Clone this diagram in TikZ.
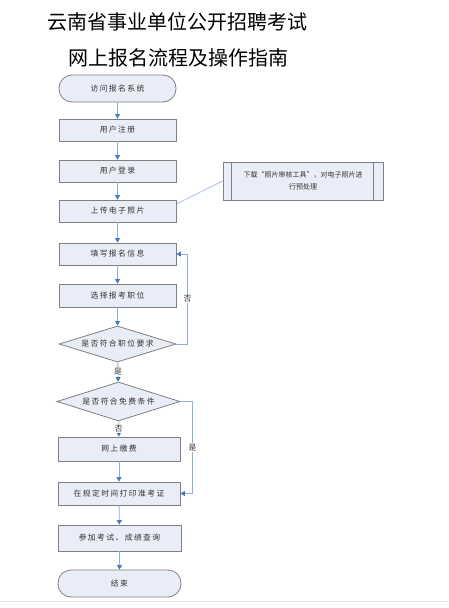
\documentclass[tikz,border=0pt]{standalone}
\usepackage{fontspec}
\newfontfamily\cjk{Noto Sans CJK SC}
\newfontfamily\cjksp[LetterSpace=18]{Noto Sans CJK SC}
\usetikzlibrary{arrows.meta,shapes.geometric,calc}
\definecolor{boxfill}{HTML}{E8EDF7}
\definecolor{boxline}{HTML}{808080}
\definecolor{linec}{HTML}{8EAEDC}
\definecolor{arrowc}{HTML}{4A76C0}
\begin{document}
\begin{tikzpicture}[x=1pt,y=-1pt,
  font=\cjksp\fontsize{7.8}{10}\selectfont,
  box/.style={draw=boxline, fill=boxfill, line width=0.8pt, inner sep=0pt, text=black!80},
  term/.style={box, rounded corners=13pt},
  dia/.style={box, diamond},
  flow/.style={draw=linec, line width=0.8pt, -{Triangle[length=4.5pt,width=5pt,color=arrowc]}},
  plain/.style={draw=linec, line width=0.6pt},
  lbl/.style={fill=white, inner sep=1pt, text=black!80},
  title/.style={font=\cjk\fontsize{20}{22}\selectfont, text=black}]
\useasboundingbox (0,0) rectangle (448,608);
\node[title] (t1) at (177,22) {云南省事业单位公开招聘考试};
\node[title] (t2) at (178,58) {网上报名流程及操作指南};

\node[term, minimum width=117pt, minimum height=27pt] (start) at (117.5,88.5) {访问报名系统};
\node[box, minimum width=117pt, minimum height=22pt] (reg) at (117.5,130) {用户注册};
\node[box, minimum width=117pt, minimum height=22pt] (login) at (117.5,171) {用户登录};
\node[box, minimum width=117pt, minimum height=22pt] (upload) at (117.5,211) {上传电子照片};
\node[box, minimum width=160pt, minimum height=38pt, align=center, font=\cjk\fontsize{7}{12}\selectfont] (side) at (303,181) {下载“照片审核工具”，对电子照片进\\行预处理};
\draw[boxline, line width=0.8pt] ([xshift=9pt]side.north west) -- ([xshift=9pt]side.south west);
\draw[boxline, line width=0.8pt] ([xshift=-10pt]side.north east) -- ([xshift=-10pt]side.south east);
\node[box, minimum width=117pt, minimum height=22pt] (fill) at (117.5,254) {填写报名信息};
\node[box, minimum width=117pt, minimum height=23pt] (select) at (117.5,295.5) {选择报考职位};
\node[dia, minimum width=117pt, minimum height=36pt] (d1) at (117.5,344) {\makebox[0pt]{是否符合职位要求}};
\node[dia, minimum width=123pt, minimum height=39pt] (d2) at (118.5,401.5) {\makebox[0pt]{是否符合免费条件}};
\node[box, minimum width=122pt, minimum height=24pt] (pay) at (119,449) {网上缴费};
\node[box, minimum width=122pt, minimum height=23pt] (print) at (119,493.5) {在规定时间打印准考证};
\node[box, minimum width=123pt, minimum height=26pt] (exam) at (119.5,538) {参加考试、成绩查询};
\node[term, minimum width=123pt, minimum height=27pt] (end) at (119.5,583.5) {结束};

\draw[flow] (start) -- (reg);
\draw[flow] (reg) -- (login);
\draw[flow] (login) -- (upload);
\draw[flow] (upload) -- (fill);
\draw[plain] ($(upload.east)+(0,-7)$) -- (side.west);
\draw[flow] (fill) -- (select);
\draw[flow] (select) -- (d1);
\draw[flow] (d1) -- node[lbl] {是} (d2);
\draw[flow] (d1.east) -- ++(11,0) |- node[pos=0.25, lbl] {否} (fill.east);
\draw[flow] (d2) -- node[lbl] {否} (pay);
\draw[flow] (d2.east) -- ++(12,0) |- node[pos=0.25, lbl] {是} (print.east);
\draw[flow] (pay) -- (print);
\draw[flow] (print) -- (exam);
\draw[flow] (exam) -- (end);
\draw[black!10, line width=0.6pt] (0,601) -- (448,601);
\end{tikzpicture}
\end{document}
